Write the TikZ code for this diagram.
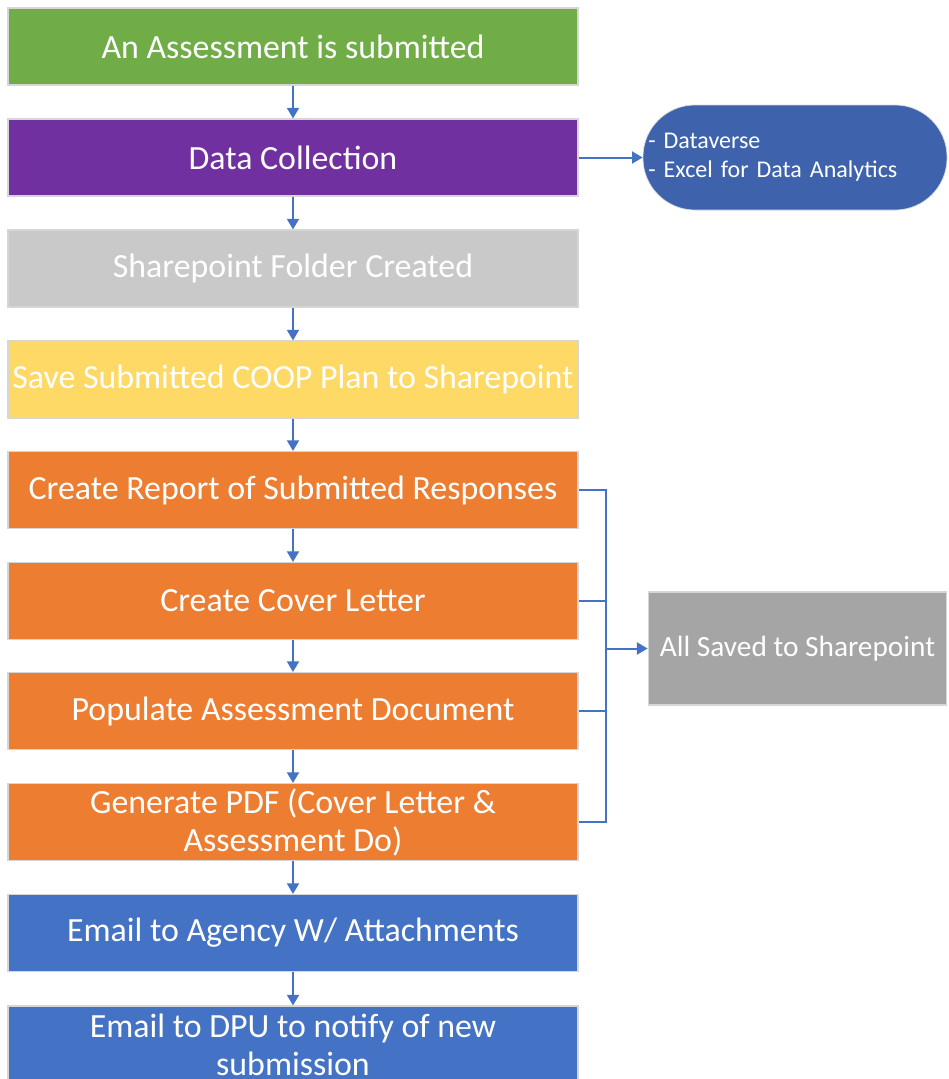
\documentclass[tikz,border=0pt]{standalone}
\usepackage{fontspec}
\setmainfont{Carlito}
\usetikzlibrary{arrows.meta,positioning}

\definecolor{startgreen}{HTML}{70AD47}
\definecolor{collectpurple}{HTML}{7030A0}
\definecolor{folderlight}{HTML}{C9C9C9}
\definecolor{saveyellow}{HTML}{FFD966}
\definecolor{docorange}{HTML}{ED7D31}
\definecolor{mailblue}{HTML}{4472C4}
\definecolor{pillblue}{HTML}{3E63AC}
\definecolor{savedgray}{HTML}{A5A5A5}
\definecolor{boxedge}{HTML}{D6D6D6}
\definecolor{linkblue}{HTML}{4472C4}

\tikzset{
  flowbox/.style={draw=boxedge, line width=0.8pt, minimum width=427.5pt,
    minimum height=57.75pt, inner sep=2pt, align=center, text=white,
    font=\fontsize{25.4}{28.5}\selectfont},
  flowline/.style={draw=linkblue, line width=1.5pt,
    -{Triangle[length=8pt,width=9pt]}},
  busline/.style={draw=linkblue, line width=1.5pt},
}

\begin{document}
\begin{tikzpicture}[x=0.75pt, y=-0.75pt]
  \useasboundingbox (0,0) rectangle (949,1079);
  \clip (0,0) rectangle (949,1079);
  % Main column
  \node[flowbox, fill=startgreen] (submit) at (293,46.5) {An Assessment is submitted};
  \node[flowbox, fill=collectpurple] (collect) at (293,157.5) {Data Collection};
  \node[flowbox, fill=folderlight] (folder) at (293,268.5) {Sharepoint Folder Created};
  \node[flowbox, fill=saveyellow] (saveplan) at (293,379.5) {Save Submitted COOP Plan to Sharepoint};
  \node[flowbox, fill=docorange] (report) at (293,490) {Create Report of Submitted Responses};
  \node[flowbox, fill=docorange] (cover) at (293,601) {Create Cover Letter};
  \node[flowbox, fill=docorange] (populate) at (293,711) {Populate Assessment Document};
  \node[flowbox, fill=docorange] (pdf) at (293,822) {Generate PDF (Cover Letter \&\\Assessment Do)};
  \node[flowbox, fill=mailblue] (agency) at (293,933) {Email to Agency W/ Attachments};
  \node[flowbox, fill=mailblue] (dpu) at (293,1044.5) {Email to DPU to notify of new\\submission};
  % Side boxes
  \node[fill=pillblue, draw=boxedge, line width=0.5pt, rounded corners=39pt,
    minimum width=228pt, minimum height=78.75pt, text width=220pt,
    inner xsep=4pt, align=left, text=white, font=\fontsize{18}{22}\selectfont]
    (tools) at (795,157.5) {- Dataverse\\- Excel for Data Analytics};
  \node[fill=savedgray, draw=boxedge, line width=0.8pt, minimum width=224pt,
    minimum height=84.75pt, inner sep=2pt, text=white,
    font=\fontsize{22}{26}\selectfont] (saved) at (797.5,648.5) {All Saved to Sharepoint};
  % Connectors
  \foreach \a/\b in {submit/collect, collect/folder, folder/saveplan,
    saveplan/report, report/cover, cover/populate, populate/pdf,
    pdf/agency, agency/dpu}
    \draw[flowline] (\a.south) -- (\b.north);
  \draw[flowline] (collect.east) -- (tools.west);
  % Bracket to Sharepoint
  \coordinate (bus) at (606,648.5);
  \draw[busline] (report.east) -| (bus) |- (pdf.east);
  \draw[busline] (cover.east) -- (cover.east -| bus);
  \draw[busline] (populate.east) -- (populate.east -| bus);
  \draw[flowline] (bus) -- (saved.west);
\end{tikzpicture}
\end{document}
